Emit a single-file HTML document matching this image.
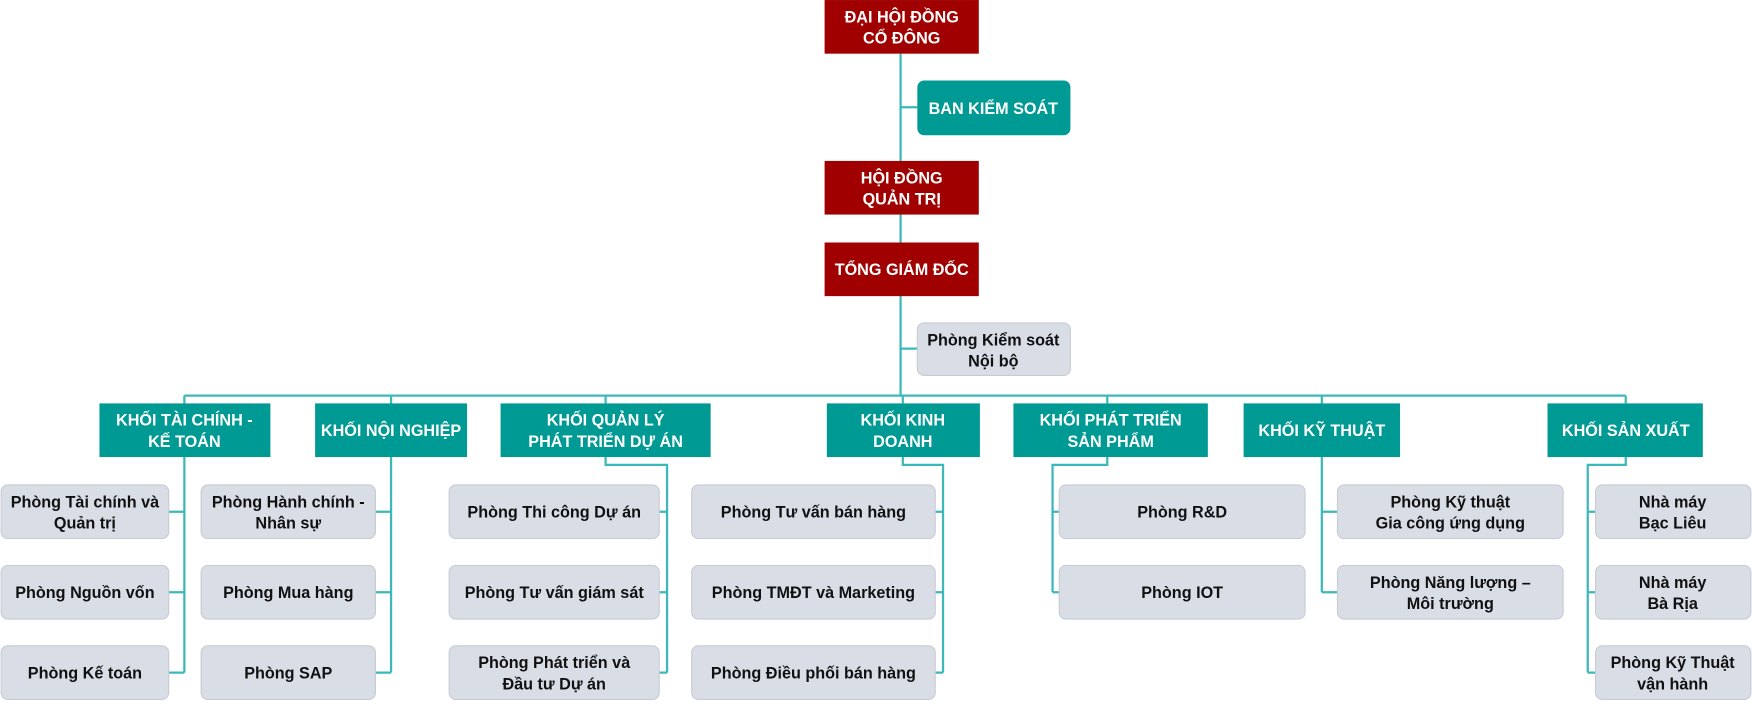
<!DOCTYPE html>
<html><head><meta charset="utf-8"><style>
html,body{margin:0;padding:0;background:#fff;}
svg{display:block}
text{font-family:"Liberation Sans",Arial,sans-serif;font-weight:bold;font-size:14.5px;text-anchor:middle}
.w{fill:#fff}.k{fill:#111}
.red{fill:#a00000}
.teal{fill:#009a94}
.gray{fill:#d8dde6;stroke:#c8ccd4;stroke-width:1}
.ln{stroke:#3cb8b8;stroke-width:2;fill:none}
</style></head><body>
<svg width="1752" height="704" viewBox="0 0 1568 630" xmlns="http://www.w3.org/2000/svg">
<!-- connectors -->
<path class="ln" d="M806 48V354M806 96H821M806 312H821"/>
<path class="ln" d="M165 354H1455"/>
<path class="ln" d="M165 354V602M151 458H165M151 530H165M151 602H165"/>
<path class="ln" d="M350 354V602M336 458H350M336 530H350M336 602H350"/>
<path class="ln" d="M542 354V361M542 409V416H597V602M590 458H597M590 530H597M590 602H597"/>
<path class="ln" d="M808 354V361M808 409V416H844V602M837 458H844M837 530H844M837 602H844"/>
<path class="ln" d="M991 354V361M991 409V416H942V530M942 458H948M942 530H948"/>
<path class="ln" d="M1183 354V530M1183 458H1197M1183 530H1197"/>
<path class="ln" d="M1455 354V361M1455 409V416H1421V602M1421 458H1428M1421 530H1428M1421 602H1428"/>
<!-- top -->
<rect class="red" x="738" y="0" width="138" height="48"/>
<text class="w" x="807" y="20">ĐẠI HỘI ĐỒNG</text><text class="w" x="807" y="39">CỔ ĐÔNG</text>
<rect class="teal" x="821" y="72" width="137" height="49" rx="6"/>
<text class="w" x="889" y="102">BAN KIỂM SOÁT</text>
<rect class="red" x="738" y="144" width="138" height="48"/>
<text class="w" x="807" y="164">HỘI ĐỒNG</text><text class="w" x="807" y="183">QUẢN TRỊ</text>
<rect class="red" x="738" y="217" width="138" height="48"/>
<text class="w" x="807" y="246">TỔNG GIÁM ĐỐC</text>
<rect class="gray" x="821" y="289" width="137" height="47" rx="6"/>
<text class="k" x="889" y="309">Phòng Kiểm soát</text><text class="k" x="889" y="328">Nội bộ</text>
<!-- khoi -->
<rect class="teal" x="89" y="361" width="153" height="48"/>
<text class="w" x="165" y="381">KHỐI TÀI CHÍNH -</text><text class="w" x="165" y="400">KẾ TOÁN</text>
<rect class="teal" x="282" y="361" width="136" height="48"/>
<text class="w" x="350" y="390">KHỐI NỘI NGHIỆP</text>
<rect class="teal" x="448" y="361" width="188" height="48"/>
<text class="w" x="542" y="381">KHỐI QUẢN LÝ</text><text class="w" x="542" y="400">PHÁT TRIỂN DỰ ÁN</text>
<rect class="teal" x="740" y="361" width="137" height="48"/>
<text class="w" x="808" y="381">KHỐI KINH</text><text class="w" x="808" y="400">DOANH</text>
<rect class="teal" x="907" y="361" width="174" height="48"/>
<text class="w" x="994" y="381">KHỐI PHÁT TRIỂN</text><text class="w" x="994" y="400">SẢN PHẨM</text>
<rect class="teal" x="1113" y="361" width="140" height="48"/>
<text class="w" x="1183" y="390">KHỐI KỸ THUẬT</text>
<rect class="teal" x="1385" y="361" width="139" height="48"/>
<text class="w" x="1455" y="390">KHỐI SẢN XUẤT</text>
<!-- col1 -->
<rect class="gray" x="1" y="434" width="150" height="48" rx="6"/>
<text class="k" x="76" y="454">Phòng Tài chính và</text><text class="k" x="76" y="473">Quản trị</text>
<rect class="gray" x="1" y="506" width="150" height="48" rx="6"/>
<text class="k" x="76" y="535">Phòng Nguồn vốn</text>
<rect class="gray" x="1" y="578" width="150" height="48" rx="6"/>
<text class="k" x="76" y="607">Phòng Kế toán</text>
<!-- col2 -->
<rect class="gray" x="180" y="434" width="156" height="48" rx="6"/>
<text class="k" x="258" y="454">Phòng Hành chính -</text><text class="k" x="258" y="473">Nhân sự</text>
<rect class="gray" x="180" y="506" width="156" height="48" rx="6"/>
<text class="k" x="258" y="535">Phòng Mua hàng</text>
<rect class="gray" x="180" y="578" width="156" height="48" rx="6"/>
<text class="k" x="258" y="607">Phòng SAP</text>
<!-- col3 -->
<rect class="gray" x="402" y="434" width="188" height="48" rx="6"/>
<text class="k" x="496" y="463">Phòng Thi công Dự án</text>
<rect class="gray" x="402" y="506" width="188" height="48" rx="6"/>
<text class="k" x="496" y="535">Phòng Tư vấn giám sát</text>
<rect class="gray" x="402" y="578" width="188" height="48" rx="6"/>
<text class="k" x="496" y="598">Phòng Phát triển và</text><text class="k" x="496" y="617">Đầu tư Dự án</text>
<!-- col4 -->
<rect class="gray" x="619" y="434" width="218" height="48" rx="6"/>
<text class="k" x="728" y="463">Phòng Tư vấn bán hàng</text>
<rect class="gray" x="619" y="506" width="218" height="48" rx="6"/>
<text class="k" x="728" y="535">Phòng TMĐT và Marketing</text>
<rect class="gray" x="619" y="578" width="218" height="48" rx="6"/>
<text class="k" x="728" y="607">Phòng Điều phối bán hàng</text>
<!-- col5 -->
<rect class="gray" x="948" y="434" width="220" height="48" rx="6"/>
<text class="k" x="1058" y="463">Phòng R&amp;D</text>
<rect class="gray" x="948" y="506" width="220" height="48" rx="6"/>
<text class="k" x="1058" y="535">Phòng IOT</text>
<!-- col6 -->
<rect class="gray" x="1197" y="434" width="202" height="48" rx="6"/>
<text class="k" x="1298" y="454">Phòng Kỹ thuật</text><text class="k" x="1298" y="473">Gia công ứng dụng</text>
<rect class="gray" x="1197" y="506" width="202" height="48" rx="6"/>
<text class="k" x="1298" y="526">Phòng Năng lượng –</text><text class="k" x="1298" y="545">Môi trường</text>
<!-- col7 -->
<rect class="gray" x="1428" y="434" width="139" height="48" rx="6"/>
<text class="k" x="1497" y="454">Nhà máy</text><text class="k" x="1497" y="473">Bạc Liêu</text>
<rect class="gray" x="1428" y="506" width="139" height="48" rx="6"/>
<text class="k" x="1497" y="526">Nhà máy</text><text class="k" x="1497" y="545">Bà Rịa</text>
<rect class="gray" x="1428" y="578" width="139" height="48" rx="6"/>
<text class="k" x="1497" y="598">Phòng Kỹ Thuật</text><text class="k" x="1497" y="617">vận hành</text>
</svg>
</body></html>
